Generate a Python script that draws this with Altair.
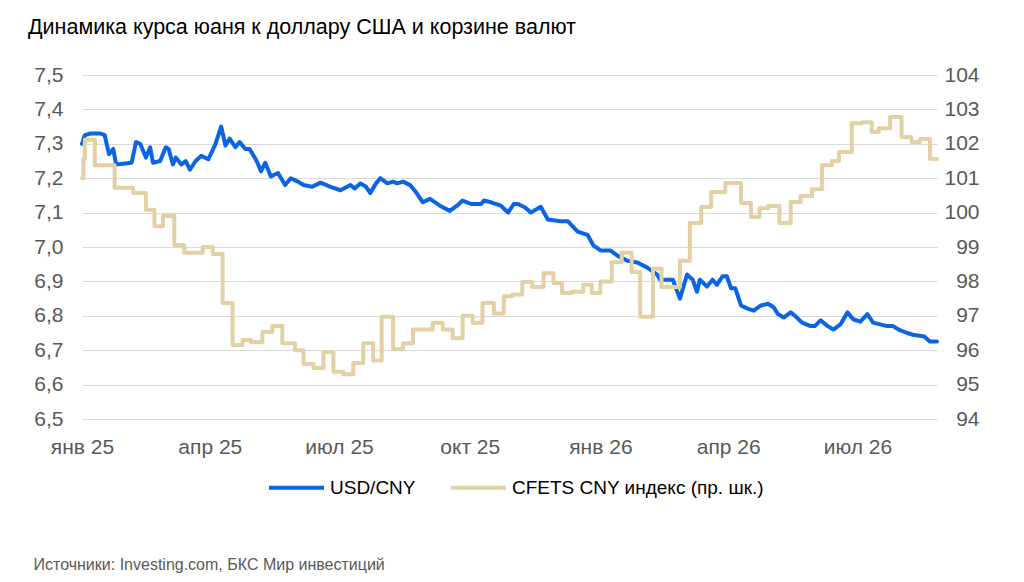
import altair as alt
import pandas as pd

# ---- data ----
usd_dates = [
    "2025-01-01", "2025-01-03", "2025-01-07", "2025-01-14", "2025-01-17", "2025-01-20", "2025-01-23",
    "2025-01-25", "2025-02-05", "2025-02-08", "2025-02-11", "2025-02-15", "2025-02-18", "2025-02-20",
    "2025-02-25", "2025-03-01", "2025-03-03", "2025-03-06", "2025-03-08", "2025-03-12", "2025-03-15",
    "2025-03-18", "2025-03-22", "2025-03-26", "2025-03-31", "2025-04-05", "2025-04-09", "2025-04-12",
    "2025-04-15", "2025-04-19", "2025-04-22", "2025-04-26", "2025-04-29", "2025-05-04", "2025-05-07",
    "2025-05-10", "2025-05-14", "2025-05-19", "2025-05-24", "2025-05-28", "2025-06-02", "2025-06-06",
    "2025-06-12", "2025-06-18", "2025-06-25", "2025-07-02", "2025-07-09", "2025-07-12", "2025-07-16",
    "2025-07-20", "2025-07-23", "2025-07-27", "2025-07-30", "2025-08-04", "2025-08-08", "2025-08-11",
    "2025-08-15", "2025-08-20", "2025-08-24", "2025-08-29", "2025-09-03", "2025-09-10", "2025-09-17",
    "2025-09-22", "2025-09-26", "2025-10-02", "2025-10-09", "2025-10-11", "2025-10-16", "2025-10-23",
    "2025-10-28", "2025-11-01", "2025-11-04", "2025-11-09", "2025-11-13", "2025-11-20", "2025-11-25",
    "2025-12-04", "2025-12-09", "2025-12-16", "2025-12-23", "2025-12-27", "2026-01-01", "2026-01-08",
    "2026-01-13", "2026-01-20", "2026-01-27", "2026-02-03", "2026-02-10", "2026-02-12", "2026-02-21",
    "2026-02-26", "2026-03-03", "2026-03-07", "2026-03-10", "2026-03-12", "2026-03-17", "2026-03-21",
    "2026-03-24", "2026-03-28", "2026-03-31", "2026-04-03", "2026-04-06", "2026-04-10", "2026-04-15",
    "2026-04-19", "2026-04-24", "2026-04-29", "2026-05-03", "2026-05-06", "2026-05-10", "2026-05-15",
    "2026-05-18", "2026-05-23", "2026-05-29", "2026-06-01", "2026-06-05", "2026-06-10", "2026-06-14",
    "2026-06-19", "2026-06-24", "2026-06-28", "2026-07-03", "2026-07-08", "2026-07-12", "2026-07-17",
    "2026-07-22", "2026-07-26", "2026-07-30", "2026-08-05", "2026-08-09", "2026-08-17", "2026-08-21",
    "2026-08-26",
]
usd_values = [
    7.300, 7.325, 7.330, 7.330, 7.325, 7.270, 7.285,
    7.240, 7.245, 7.305, 7.300, 7.260, 7.290, 7.245,
    7.250, 7.290, 7.285, 7.240, 7.260, 7.240, 7.250,
    7.225, 7.250, 7.265, 7.255, 7.300, 7.350, 7.295,
    7.315, 7.290, 7.305, 7.285, 7.285, 7.250, 7.220,
    7.245, 7.205, 7.215, 7.180, 7.200, 7.190, 7.180,
    7.175, 7.187, 7.175, 7.165, 7.180, 7.170, 7.185,
    7.175, 7.157, 7.185, 7.200, 7.185, 7.190, 7.185,
    7.190, 7.180, 7.160, 7.130, 7.140, 7.120, 7.105,
    7.120, 7.135, 7.125, 7.125, 7.135, 7.130, 7.120,
    7.100, 7.125, 7.125, 7.115, 7.100, 7.117, 7.080,
    7.075, 7.075, 7.045, 7.035, 7.005, 6.990, 6.990,
    6.975, 6.960, 6.955, 6.940, 6.920, 6.905, 6.905,
    6.850, 6.920, 6.905, 6.870, 6.905, 6.885, 6.905,
    6.890, 6.915, 6.915, 6.880, 6.880, 6.830, 6.820,
    6.815, 6.830, 6.835, 6.825, 6.805, 6.795, 6.810,
    6.800, 6.780, 6.770, 6.770, 6.787, 6.770, 6.760,
    6.775, 6.810, 6.790, 6.783, 6.805, 6.780, 6.775,
    6.770, 6.770, 6.760, 6.750, 6.745, 6.740, 6.725,
    6.725,
]

cfets_dates = [
    "2025-01-01", "2025-01-02", "2025-01-03", "2025-01-10", "2025-01-24", "2025-02-06", "2025-02-15",
    "2025-02-21", "2025-02-27", "2025-03-07", "2025-03-14", "2025-03-27", "2025-04-03", "2025-04-10",
    "2025-04-17", "2025-04-24", "2025-04-30", "2025-05-08", "2025-05-15", "2025-05-22", "2025-05-31",
    "2025-06-06", "2025-06-13", "2025-06-20", "2025-06-27", "2025-07-04", "2025-07-11", "2025-07-18",
    "2025-07-25", "2025-07-31", "2025-08-08", "2025-08-15", "2025-08-22", "2025-09-05", "2025-09-12",
    "2025-09-19", "2025-09-26", "2025-10-03", "2025-10-10", "2025-10-18", "2025-10-25", "2025-10-31",
    "2025-11-07", "2025-11-14", "2025-11-22", "2025-11-29", "2025-12-05", "2025-12-12", "2025-12-20",
    "2025-12-26", "2026-01-01", "2026-01-09", "2026-01-16", "2026-01-23", "2026-01-29", "2026-02-07",
    "2026-02-13", "2026-02-26", "2026-03-05", "2026-03-13", "2026-03-20", "2026-03-30", "2026-04-10",
    "2026-04-17", "2026-04-23", "2026-04-29", "2026-05-07", "2026-05-15", "2026-05-22", "2026-05-30",
    "2026-06-06", "2026-06-13", "2026-06-18", "2026-06-27", "2026-07-04", "2026-07-11", "2026-07-16",
    "2026-07-24", "2026-08-01", "2026-08-08", "2026-08-14", "2026-08-21", "2026-08-26",
]
cfets_values = [
    101.00, 101.55, 102.12, 101.38, 100.72, 100.57, 100.08,
    99.60, 99.90, 99.06, 98.83, 99.00, 98.80, 97.37,
    96.15, 96.30, 96.23, 96.53, 96.70, 96.20, 96.00,
    95.60, 95.48, 95.94, 95.37, 95.30, 95.63, 96.20,
    95.70, 96.97, 96.03, 96.20, 96.60, 96.80, 96.60,
    96.35, 97.00, 96.80, 97.37, 97.07, 97.57, 97.62,
    97.98, 97.84, 98.24, 97.95, 97.66, 97.70, 97.90,
    97.66, 98.00, 98.56, 98.83, 98.27, 96.97, 98.37,
    97.84, 98.60, 99.70, 100.16, 100.60, 100.86, 100.28,
    99.87, 100.13, 100.19, 99.70, 100.31, 100.48, 100.68,
    101.38, 101.50, 101.76, 102.60, 102.63, 102.34, 102.45,
    102.78, 102.20, 102.05, 102.14, 101.56, 101.56,
]

series_names = ["USD/CNY", "CFETS CNY индекс (пр. шк.)"]
series_colors = ["#0A64E4", "#E3D1A5"]

left_ticks = [6.5, 6.6, 6.7, 6.8, 6.9, 7.0, 7.1, 7.2, 7.3, 7.4, 7.5]
right_ticks = [94, 95, 96, 97, 98, 99, 100, 101, 102, 103, 104]
month_names = ["янв", "фев", "мар", "апр", "май", "июн", "июл", "авг", "сен", "окт", "ноя", "дек"]
x_tick_months = [(2025, 1), (2025, 4), (2025, 7), (2025, 10), (2026, 1), (2026, 4), (2026, 7)]

title_text = "Динамика курса юаня к доллару США и корзине валют"
source_text = "Источники: Investing.com, БКС Мир инвестиций"

FONT = "Liberation Sans"
GRAY = "#595959"

usd_df = pd.DataFrame({"date": usd_dates, "value": usd_values, "series": series_names[0]})
cfets_df = pd.DataFrame({"date": cfets_dates, "value": cfets_values, "series": series_names[1]})

month_js = "[" + ",".join("'" + m + "'" for m in month_names) + "]"

x_enc = alt.X(
    "date:T",
    scale=alt.Scale(
        type="utc",
        domain=[alt.DateTime(year=2025, month=1, date=1, utc=True),
                alt.DateTime(year=2026, month=8, date=26, utc=True)],
    ),
    axis=alt.Axis(
        values=[alt.DateTime(year=y, month=m, date=1, utc=True) for y, m in x_tick_months],
        labelExpr=month_js + "[utcmonth(datum.value)] + ' ' + utcFormat(datum.value, '%y')",
        grid=False, domain=False, ticks=False,
        labelFont=FONT, labelFontSize=21, labelColor=GRAY, labelPadding=17,
        labelOverlap=False, labelFlush=False,
        title=source_text, titleFont=FONT, titleFontSize=16, titleFontWeight="normal",
        titleColor=GRAY, titleAlign="left", titleBaseline="alphabetic",
        titleX=-49, titleY=150, titleAnchor="start",
    ),
)

color_enc = alt.Color(
    "series:N",
    scale=alt.Scale(domain=series_names, range=series_colors),
    legend=alt.Legend(
        title=None, orient="none", legendX=185, legendY=383, direction="horizontal",
        symbolType="stroke", symbolSize=3025, symbolStrokeWidth=4,
        labelFont=FONT, labelFontSize=19, labelColor="black", labelOffset=4,
        columnPadding=27, padding=0, labelLimit=400,
    ),
)

usd_line = alt.Chart(usd_df).mark_line(strokeWidth=4, strokeJoin="round", strokeCap="round").encode(
    x=x_enc,
    y=alt.Y(
        "value:Q",
        scale=alt.Scale(domain=[6.5, 7.5], zero=False, nice=False),
        axis=alt.Axis(
            values=left_ticks, orient="left",
            labelExpr="replace(format(datum.value, '.1f'), '.', ',')",
            grid=True, gridColor="#D9D9D9", gridWidth=1, domain=False, ticks=False,
            labelFont=FONT, labelFontSize=21, labelColor=GRAY, labelPadding=19, title=None,
        ),
    ),
    color=color_enc,
)

cfets_line = alt.Chart(cfets_df).mark_line(
    strokeWidth=4, strokeJoin="round", strokeCap="round", interpolate="step-after"
).encode(
    x=x_enc,
    y=alt.Y(
        "value:Q",
        scale=alt.Scale(domain=[94, 104], zero=False, nice=False),
        axis=alt.Axis(
            values=right_ticks, orient="right", format="d",
            grid=False, domain=False, ticks=False,
            labelFont=FONT, labelFontSize=21, labelColor=GRAY, labelPadding=42, labelAlign="right",
            title=None,
        ),
    ),
    color=color_enc,
)

chart = (
    alt.layer(usd_line, cfets_line)
    .resolve_scale(y="independent")
    .properties(
        width=855,
        height=344,
        autosize=alt.AutoSizeParams(type="none"),
        padding={"left": 74, "top": 67, "right": 79, "bottom": 155},
        title=alt.TitleParams(
            text=title_text, anchor="start", frame="group", font=FONT, fontSize=21.5,
            fontWeight="normal", color="black", dx=-54, offset=26,
        ),
        background="white",
    )
    .configure_view(stroke=None)
)

chart.save("out.html", embed_options={"renderer": "svg", "actions": False})
